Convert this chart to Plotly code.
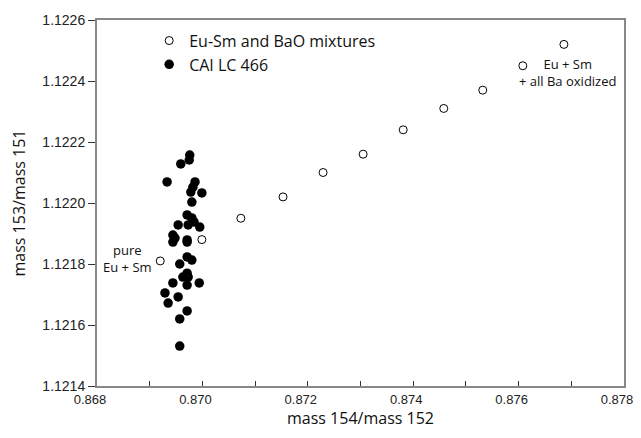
import plotly.graph_objects as go

# Eu-Sm and BaO mixtures (open circles)
mix_x = [0.86920, 0.86999, 0.87073, 0.87153, 0.87229, 0.87305,
         0.87381, 0.87458, 0.87532, 0.87608, 0.87686]
mix_y = [1.12181, 1.12188, 1.12195, 1.12202, 1.12210, 1.12216,
         1.12224, 1.12231, 1.12237, 1.12245, 1.12252]

# CAI LC 466 (filled dots)
cai_x = [0.86976, 0.86975, 0.86959, 0.86933, 0.86986, 0.86982, 0.86978,
         0.86999, 0.86980, 0.86971, 0.86980, 0.86984, 0.86995, 0.86973,
         0.86954, 0.86944, 0.86948, 0.86971, 0.86944, 0.86971, 0.86971,
         0.86980, 0.86957, 0.86971, 0.86973, 0.86963, 0.86994, 0.86971,
         0.86944, 0.86929, 0.86954, 0.86935, 0.86971, 0.86957, 0.86957]
cai_y = [1.122157, 1.122141, 1.122128, 1.122069, 1.122069, 1.122052, 1.122036,
         1.122033, 1.122003, 1.121961, 1.121951, 1.121938, 1.121921, 1.121928,
         1.121928, 1.121895, 1.121885, 1.121879, 1.121872, 1.121872, 1.121823,
         1.121813, 1.121800, 1.121770, 1.121757, 1.121757, 1.121738, 1.121731,
         1.121738, 1.121705, 1.121692, 1.121672, 1.121646, 1.121620, 1.121531]

x_ticks = [0.868, 0.869, 0.870, 0.871, 0.872, 0.873, 0.874, 0.875, 0.876, 0.877, 0.878]
x_labels = ["0.868", "", "0.870", "", "0.872", "", "0.874", "", "0.876", "", "0.878"]
y_ticks = [1.1214, 1.1216, 1.1218, 1.1220, 1.1222, 1.1224, 1.1226]

tick_font = dict(family="Liberation Sans, Arial, sans-serif", size=14, color="#222")
xtick_font = dict(family="Liberation Sans, Arial, sans-serif", size=13, color="#222")
text_font = dict(family="Open Sans, sans-serif", size=13, color="#111")
title_font = dict(family="Open Sans, sans-serif", size=16, color="#111")

fig = go.Figure()
fig.add_trace(go.Scatter(
    x=mix_x, y=mix_y, mode="markers", name="Eu-Sm and BaO mixtures",
    marker=dict(symbol="circle-open", size=8, color="black", line=dict(width=1))))
fig.add_trace(go.Scatter(
    x=cai_x, y=cai_y, mode="markers", name="CAI LC 466",
    marker=dict(symbol="circle", size=9.5, color="black")))

fig.add_annotation(x=mix_x[0], y=mix_y[0], text="pure<br>Eu + Sm", showarrow=False,
                   xanchor="right", xshift=-6, yshift=2, align="center", font=text_font)
fig.add_annotation(x=mix_x[-2], y=mix_y[-2], text="Eu + Sm<br>+ all Ba oxidized", showarrow=False,
                   xanchor="left", xshift=-6, yshift=-7, align="center", font=text_font)

# page body has an 8px margin, so the figure is sized to fit what is visible
fig.update_layout(
    width=633, height=430,
    margin=dict(l=89, r=17, t=12, b=52),
    plot_bgcolor="white", paper_bgcolor="white",
    showlegend=True,
    legend=dict(x=0.099, y=0.99, xanchor="left", yanchor="top",
                font=dict(family="Open Sans, sans-serif", size=16, color="#111"),
                bgcolor="rgba(0,0,0,0)", tracegroupgap=0),
    xaxis=dict(range=[0.868, 0.878], tickvals=x_ticks, ticktext=x_labels,
               ticks="inside", ticklen=5, tickcolor="#333", showgrid=False, zeroline=False,
               showline=True, linecolor="#888", linewidth=2, mirror=True,
               tickfont=xtick_font, ticklabeloverflow="allow", ticklabelshift=-7,
               automargin=False,
               title=dict(text="mass 154/mass 152", standoff=6, font=title_font)),
    yaxis=dict(range=[1.1214, 1.1226], tickvals=y_ticks, tickformat=".4f",
               ticks="outside", ticklen=7, tickcolor="#333", showgrid=False, zeroline=False,
               showline=True, linecolor="#888", linewidth=2, mirror=True,
               tickfont=tick_font, automargin=False,
               title=dict(text="mass 153/mass 151", standoff=14, font=title_font)),
)

fig.write_html("out.html")
